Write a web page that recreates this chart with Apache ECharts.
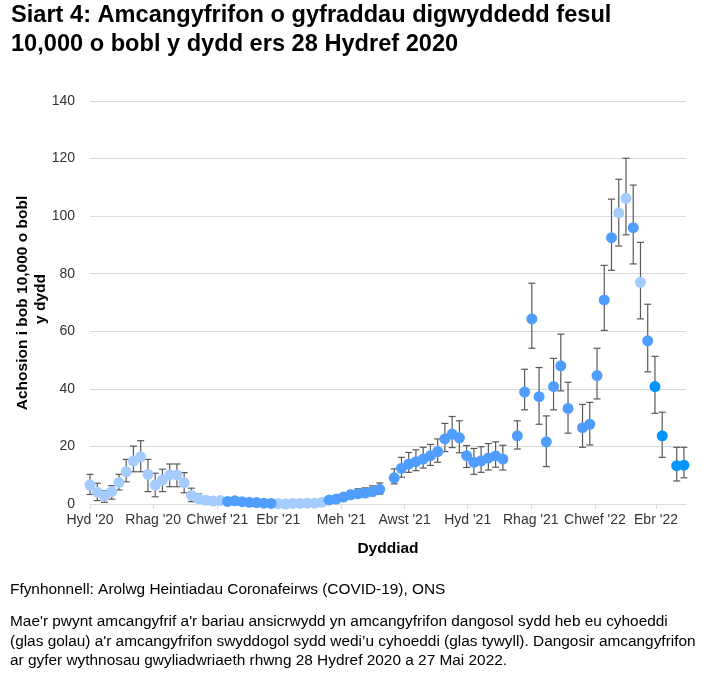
<!DOCTYPE html>
<html><head><meta charset="utf-8">
<script src="https://cdn.jsdelivr.net/npm/echarts@6/dist/echarts.min.js"></script>
<style>html,body{margin:0;padding:0;background:#fff}#chart{width:707px;height:679px}</style>
</head><body><div id="chart"></div><script>
// Weekly reference dates (weeks with no estimate are absent)
const dates = [
 '2020-10-28','2020-11-04','2020-11-11','2020-11-18','2020-11-25','2020-12-02','2020-12-09','2020-12-16','2020-12-23','2020-12-30',
 '2021-01-06','2021-01-13','2021-01-20','2021-01-27','2021-02-03','2021-02-10','2021-02-17','2021-02-24','2021-03-03','2021-03-10',
 '2021-03-17','2021-03-24','2021-03-31','2021-04-07','2021-04-14','2021-04-21','2021-04-28','2021-05-05','2021-05-12','2021-05-19',
 '2021-05-26','2021-06-02','2021-06-09','2021-06-16','2021-06-23','2021-06-30','2021-07-07','2021-07-14','2021-07-21','2021-07-28',
 '2021-08-04','2021-08-18','2021-08-25','2021-09-01','2021-09-08','2021-09-15','2021-09-22','2021-09-29','2021-10-06','2021-10-13',
 '2021-10-20','2021-10-27','2021-11-03','2021-11-10','2021-11-17','2021-11-24','2021-12-01','2021-12-15','2021-12-22','2021-12-29',
 '2022-01-05','2022-01-12','2022-01-19','2022-01-26','2022-02-02','2022-02-16','2022-02-23','2022-03-02','2022-03-09','2022-03-16',
 '2022-03-23','2022-03-30','2022-04-06','2022-04-13','2022-04-20','2022-04-27','2022-05-04','2022-05-18','2022-05-25'
];
const estimate = [
 6.6,4.1,2.8,4.3,7.5,11.2,14.9,16.4,10.3,6.6,
 8.3,10.1,10.1,7.4,3.0,1.8,1.3,1.0,1.2,0.9,
 1.1,0.8,0.6,0.5,0.3,0.2,0.1,0.0,0.2,0.2,
 0.3,0.3,0.6,1.4,1.7,2.4,3.2,3.6,3.8,4.3,
 5.1,9.1,12.4,13.9,14.7,15.6,16.8,18.2,22.6,24.3,
 23.0,16.8,14.5,15.0,16.0,16.7,15.6,23.7,38.9,64.3,
 37.3,21.6,40.8,48.0,33.2,26.5,27.7,44.6,70.9,92.5,
 101.1,106.2,96.0,77.0,56.7,40.8,23.7,13.3,13.5
];
const lower = [
 3.3,1.2,0.6,1.7,4.9,7.7,11.2,11.2,4.3,2.5,
 4.3,6.0,6.0,3.9,0.8,0.6,0.5,0.4,0.4,0.4,
 0.5,0.3,0.2,0.2,0.1,0.0,0.0,0.0,0.0,0.0,
 0.1,0.1,0.2,0.6,0.9,1.4,2.0,2.3,2.5,2.9,
 3.4,7.0,9.3,11.0,11.6,12.5,13.4,14.5,18.2,19.6,
 17.8,12.7,10.3,11.0,11.8,12.8,11.8,19.1,32.7,54.1,
 27.7,13.0,32.7,39.3,24.6,19.7,20.5,36.5,60.3,81.2,
 89.6,93.5,83.4,64.3,45.9,31.5,16.2,8.0,9.1
];
const upper = [
 10.3,7.2,4.6,6.4,10.3,15.5,20.1,22.0,15.5,10.7,
 12.1,13.9,13.9,10.9,5.5,3.5,2.5,2.0,2.1,1.6,
 1.8,1.4,1.2,1.0,0.8,0.6,0.5,0.4,0.5,0.6,
 0.7,0.8,1.2,2.3,2.7,3.6,4.7,5.3,5.6,6.3,
 7.3,12.2,16.2,17.9,18.8,19.7,20.7,22.6,28.0,30.4,
 28.9,20.3,19.3,19.9,21.0,21.6,20.4,28.9,46.8,76.7,
 47.4,30.6,50.6,59.0,42.3,34.6,35.3,54.1,82.9,105.9,
 112.8,120.1,110.8,90.9,69.4,51.3,31.9,19.7,19.7
];
// U = unpublished (light), P = published (dark), L = latest published
const status = [
 'U','U','U','U','U','U','U','U','U','U',
 'U','U','U','U','U','U','U','U','U','P',
 'P','P','P','P','P','P','U','U','U','U',
 'U','U','U','P','P','P','P','P','P','P',
 'P','P','P','P','P','P','P','P','P','P',
 'P','P','P','P','P','P','P','P','P','P',
 'P','P','P','P','P','P','P','P','P','P',
 'U','U','P','U','P','L','L','L','L'
];
const tickDates = ['2020-10-28','2020-12-28','2021-02-28','2021-04-28','2021-06-28','2021-08-28','2021-10-28','2021-12-28','2022-02-28','2022-04-28'];
const tickLabels = ["Hyd '20","Rhag '20","Chwef '21","Ebr '21","Meh '21","Awst '21","Hyd '21","Rhag '21","Chwef '22","Ebr '22"];
const xMin = '2020-10-28', xMax = '2022-05-27';
const yMin = 0, yMax = 140, yStep = 20;

const titleLines = ['Siart 4: Amcangyfrifon o gyfraddau digwyddedd fesul','10,000 o bobl y dydd ers 28 Hydref 2020'];
const yTitleLines = ['Achosion i bob 10,000 o bobl','y dydd'];
const xTitle = 'Dyddiad';
const sourceText = 'Ffynhonnell: Arolwg Heintiadau Coronafeirws (COVID-19), ONS';
const noteLines = [
 "Mae'r pwynt amcangyfrif a'r bariau ansicrwydd yn amcangyfrifon dangosol sydd heb eu cyhoeddi",
 "(glas golau) a'r amcangyfrifon swyddogol sydd wedi\u2019u cyhoeddi (glas tywyll). Dangosir amcangyfrifon",
 "ar gyfer wythnosau gwyliadwriaeth rhwng 28 Hydref 2020 a 27 Mai 2022."
];
const colors = {U:'#a4ccff', P:'#4f9dff', L:'#0095ff'};

function ts(s){const p=s.split('-').map(Number);return new Date(p[0],p[1]-1,p[2]).getTime();}
const tickTs = tickDates.map(ts);

const FONT = '"Liberation Sans", Arial, sans-serif';
const errData = dates.map((d,i)=>[ts(d), lower[i], upper[i]]);
function pts(code){return dates.map((d,i)=>status[i]===code?[ts(d),estimate[i]]:null).filter(Boolean);}

const chart = echarts.init(document.getElementById('chart'), null, {renderer:'canvas'});
const graphics = [];
titleLines.forEach((t,k)=>graphics.push({type:'text',left:11,top:3+k*29,style:{text:t,fontFamily:FONT,fontWeight:'bold',fontSize:23.6,fill:'#000'}}));
graphics.push({type:'text',x:23,y:303,rotation:Math.PI/2,style:{text:yTitleLines[0],fontFamily:FONT,fontWeight:'bold',fontSize:15.5,fill:'#000',align:'center',verticalAlign:'middle'}});
graphics.push({type:'text',x:41,y:299,rotation:Math.PI/2,style:{text:yTitleLines[1],fontFamily:FONT,fontWeight:'bold',fontSize:15.5,fill:'#000',align:'center',verticalAlign:'middle'}});
graphics.push({type:'text',x:388,y:549,style:{text:xTitle,fontFamily:FONT,fontWeight:'bold',fontSize:15.5,fill:'#000',align:'center',verticalAlign:'middle'}});
graphics.push({type:'text',x:10,y:590,style:{text:sourceText,fontFamily:FONT,fontSize:15.4,fill:'#000',align:'left',verticalAlign:'middle'}});
noteLines.forEach((t,k)=>graphics.push({type:'text',x:10,y:622+k*19.5,style:{text:t,fontFamily:FONT,fontSize:15.4,fill:'#000',align:'left',verticalAlign:'middle'}}));

chart.setOption({
  animation:false,
  backgroundColor:'#fff',
  textStyle:{fontFamily:FONT},
  graphic:graphics,
  grid:{left:90,right:21,top:101,bottom:175,containLabel:false},
  xAxis:{
    type:'value', min:ts(xMin), max:ts(xMax), scale:true,
    axisLine:{show:true,lineStyle:{color:'#d9d9d9',width:1}},
    axisTick:{show:true,length:5,lineStyle:{color:'#d9d9d9'},customValues:tickTs},
    axisLabel:{customValues:tickTs,fontSize:14,color:'#333',margin:9,fontFamily:FONT,hideOverlap:false,showMinLabel:true,showMaxLabel:true,
      formatter:function(v){const i=tickTs.findIndex(t=>Math.abs(t-v)<43200000);return i>=0?tickLabels[i]:'';}},
    splitLine:{show:false}
  },
  yAxis:{
    type:'value', min:yMin, max:yMax, interval:yStep,
    axisLine:{show:false}, axisTick:{show:false},
    axisLabel:{fontSize:14,color:'#333',margin:15,fontFamily:FONT},
    splitLine:{lineStyle:{color:'#d9d9d9',width:1}}
  },
  series:[
    {type:'custom', name:'err', data:errData, encode:{x:0,y:[1,2]}, z:1, clip:false,
     renderItem:function(params,api){
       const x=api.value(0), lo=api.value(1), hi=api.value(2);
       const a=api.coord([x,hi]), b=api.coord([x,lo]); const hw=3.5;
       const st={stroke:'#595959',lineWidth:1.2};
       return {type:'group',children:[
         {type:'line',shape:{x1:a[0],y1:a[1],x2:b[0],y2:b[1]},style:st},
         {type:'line',shape:{x1:a[0]-hw,y1:a[1],x2:a[0]+hw,y2:a[1]},style:st},
         {type:'line',shape:{x1:b[0]-hw,y1:b[1],x2:b[0]+hw,y2:b[1]},style:st}
       ]};
     }},
    {type:'scatter', name:'unpublished', data:pts('U'), symbolSize:11, z:2, itemStyle:{color:colors.U,opacity:1}},
    {type:'scatter', name:'published', data:pts('P'), symbolSize:11, z:3, itemStyle:{color:colors.P,opacity:1}},
    {type:'scatter', name:'latest', data:pts('L'), symbolSize:11, z:4, itemStyle:{color:colors.L,opacity:1}}
  ]
});
</script></body></html>
